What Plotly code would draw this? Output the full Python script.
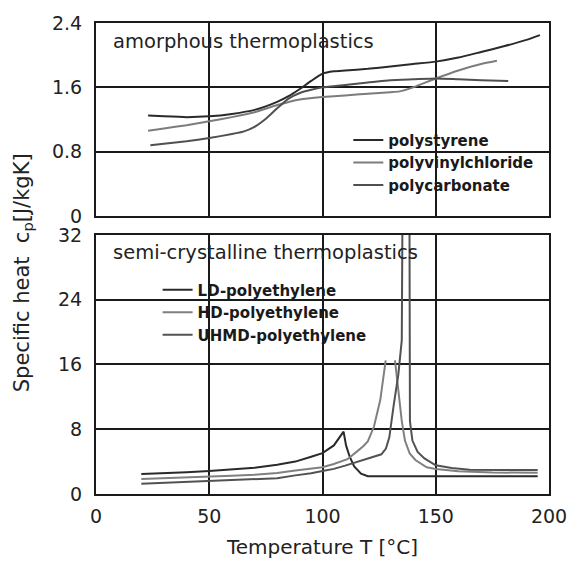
import plotly.graph_objects as go
from plotly.subplots import make_subplots

# ---- amorphous thermoplastics: specific heat cp [J/kgK] vs temperature [°C]
ps_t = [23, 30, 40, 50, 60, 70, 80, 85, 90, 95, 100, 105, 110, 120, 130, 140, 150, 160, 170, 180, 190, 196]
ps_cp = [1.25, 1.24, 1.23, 1.24, 1.27, 1.32, 1.42, 1.49, 1.58, 1.68, 1.77, 1.80, 1.81, 1.83, 1.86, 1.89,
         1.92, 1.97, 2.04, 2.11, 2.19, 2.25]

pvc_t = [23, 30, 40, 50, 60, 70, 80, 90, 100, 110, 120, 130, 134, 140, 150, 160, 170, 177]
pvc_cp = [1.06, 1.09, 1.13, 1.18, 1.23, 1.29, 1.38, 1.45, 1.48, 1.50, 1.52, 1.54, 1.55, 1.60, 1.71, 1.81,
          1.89, 1.93]

pc_t = [24, 30, 40, 50, 60, 65, 70, 75, 80, 85, 90, 95, 100, 110, 120, 130, 140, 150, 160, 170, 182]
pc_cp = [0.88, 0.90, 0.93, 0.97, 1.02, 1.05, 1.11, 1.21, 1.34, 1.46, 1.53, 1.57, 1.60, 1.63, 1.66, 1.69,
         1.70, 1.71, 1.70, 1.69, 1.68]

# ---- semi-crystalline thermoplastics (None marks where a peak leaves the chart)
ld_t = [20, 30, 40, 50, 60, 70, 80, 88, 95, 100, 105, 108, 109.3, 110.4, 112, 114, 117, 120, 130, 150, 170, 195]
ld_cp = [2.46, 2.55, 2.68, 2.83, 3.0, 3.25, 3.6, 4.0, 4.6, 5.05, 6.0, 7.1, 7.7, 6.0, 4.6, 3.4, 2.5, 2.2,
         2.2, 2.2, 2.2, 2.2]

hd_t = [20, 30, 40, 50, 60, 70, 80, 88, 95, 100, 105, 111, 115, 118, 120, 122.7, 125.5, 127.9, None,
        132, 133.5, 135, 136.4, 138.5, 141, 143, 146, 150, 160, 175, 195]
hd_cp = [1.85, 1.93, 2.02, 2.13, 2.25, 2.38, 2.6, 2.9, 3.1, 3.3, 3.7, 4.3, 5.2, 5.9, 6.5, 8.3, 11.6, 16.5,
         None, 16.5, 12.8, 9.0, 6.6, 5.0, 4.2, 3.8, 3.3, 3.1, 2.8, 2.65, 2.62]

uhmd_t = [20, 30, 40, 50, 60, 70, 80, 88, 95, 100, 105, 110, 117, 122, 126, 128, 129.5, 131.3, 133.5, 135,
          135.3, None, 138.4, 138.6, 139.7, 142, 145, 150, 157, 165, 180, 195]
uhmd_cp = [1.27, 1.37, 1.48, 1.6, 1.71, 1.82, 1.95, 2.3, 2.55, 2.85, 3.1, 3.5, 4.1, 4.5, 4.9, 5.6, 7.0,
           10.7, 14.8, 19.0, 34, None, 34, 9.0, 6.6, 5.2, 4.4, 3.55, 3.2, 3.0, 2.95, 2.95]

x_ticks = [0, 50, 100, 150, 200]
top_ticks = [0, 0.8, 1.6, 2.4]
top_labels = ["0", "0.8", "1.6", "2.4"]
bottom_ticks = [0, 8, 16, 24, 32]

FONT = "DejaVu Sans"
INK = "#1a1a1a"
TEXT = "#222222"

fig = make_subplots(rows=2, cols=1, shared_xaxes=True)

top_series = [
    ("polystyrene", ps_t, ps_cp, "#2a2a2a"),
    ("polyvinylchloride", pvc_t, pvc_cp, "#7c7c7c"),
    ("polycarbonate", pc_t, pc_cp, "#505050"),
]
for name, t, cp, color in top_series:
    fig.add_trace(go.Scatter(x=t, y=cp, name=name, mode="lines", legend="legend",
                             line=dict(color=color, width=2, shape="spline", smoothing=0.5)),
                  row=1, col=1)

bottom_series = [
    ("LD-polyethylene", ld_t, ld_cp, "#2a2a2a"),
    ("HD-polyethylene", hd_t, hd_cp, "#808080"),
    ("UHMD-polyethylene", uhmd_t, uhmd_cp, "#525252"),
]
for name, t, cp, color in bottom_series:
    fig.add_trace(go.Scatter(x=t, y=cp, name=name, mode="lines", legend="legend2",
                             line=dict(color=color, width=2), connectgaps=False),
                  row=2, col=1)

axis_common = dict(showgrid=True, gridcolor=INK, gridwidth=1.5, showline=True, mirror=True,
                   linecolor=INK, linewidth=2, zeroline=False, ticks="",
                   tickfont=dict(family=FONT, size=19, color=TEXT))

fig.update_xaxes(range=[0, 200], tickvals=x_ticks, **axis_common)
fig.update_xaxes(showticklabels=False, row=1, col=1)
fig.update_xaxes(ticklabelstandoff=4, row=2, col=1,
                 title=dict(text="Temperature T [°C]", standoff=14,
                            font=dict(family=FONT, size=20, color=TEXT)))
fig.update_yaxes(range=[0, 2.4], tickvals=top_ticks, ticktext=top_labels, ticklabelstandoff=8,
                 domain=[0.590, 1.0], row=1, col=1, **axis_common)
fig.update_yaxes(range=[0, 32], tickvals=bottom_ticks, ticklabelstandoff=8,
                 domain=[0.0, 0.5502], row=2, col=1, **axis_common)

legend_style = dict(xanchor="left", yanchor="top", bgcolor="rgba(0,0,0,0)", borderwidth=0,
                    font=dict(family=FONT, size=15, color="#1a1a1a", weight="bold"),
                    traceorder="normal", itemclick=False)

fig.update_layout(
    width=579, height=567,
    margin=dict(l=96, r=20, t=16, b=73),
    paper_bgcolor="white", plot_bgcolor="white",
    font=dict(family=FONT, size=19, color=TEXT),
    showlegend=True,
    legend=dict(x=0.557, y=0.786, **legend_style),
    legend2=dict(x=0.136, y=0.468, **legend_style),
    annotations=[
        dict(text="amorphous thermoplastics", xref="x domain", yref="y domain",
             x=0.034, y=0.905, xanchor="left", yanchor="middle", showarrow=False,
             font=dict(family=FONT, size=19.5, color=TEXT)),
        dict(text="semi-crystalline thermoplastics", xref="x2 domain", yref="y2 domain",
             x=0.034, y=0.931, xanchor="left", yanchor="middle", showarrow=False,
             font=dict(family=FONT, size=19.5, color=TEXT)),
        dict(text="Specific heat  c<sub>p</sub>[J/kgK]", xref="paper", yref="paper",
             x=-0.162, y=0.47, xanchor="center", yanchor="middle", textangle=-90,
             showarrow=False, font=dict(family=FONT, size=21, color=TEXT)),
    ],
)

fig.write_html("out.html")
